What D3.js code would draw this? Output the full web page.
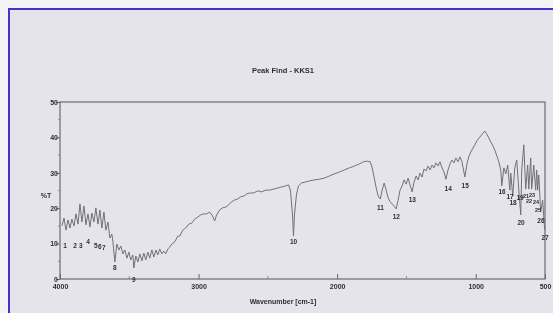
<!DOCTYPE html>
<html>
<head>
<meta charset="utf-8">
<script src="https://cdn.jsdelivr.net/npm/d3@7"></script>
<style>
  html, body { margin: 0; padding: 0; background: #f6f6f9; }
  svg { display: block; font-family: "Liberation Sans", Arial, sans-serif; }
</style>
</head>
<body>
<svg id="chart" width="553" height="313"></svg>
<script>
// spectrum (wavenumber cm-1, %T)
const wavenumbers = [
  3986, 3971, 3957, 3942, 3928, 3914, 3899, 3885, 3870, 3856, 3842, 3827, 3813, 3798, 3784, 3770,
  3755, 3741, 3726, 3712, 3698, 3683, 3669, 3654, 3640, 3626, 3618, 3604, 3590, 3575, 3561, 3546,
  3532, 3517, 3503, 3489, 3474, 3467, 3453, 3438, 3424, 3409, 3395, 3381, 3366, 3352, 3337, 3323,
  3308, 3294, 3280, 3265, 3251, 3237, 3222, 3208, 3193, 3179, 3165, 3150, 3136, 3114, 3093, 3071,
  3049, 3028, 3006, 2985, 2963, 2942, 2920, 2899, 2884, 2870, 2848, 2827, 2805, 2783, 2762, 2740,
  2718, 2697, 2675, 2654, 2632, 2603, 2574, 2545, 2517, 2488, 2459, 2430, 2401, 2372, 2351, 2337,
  2322, 2315, 2308, 2294, 2279, 2258, 2229, 2200, 2164, 2128, 2092, 2056, 2020, 1984, 1948, 1912,
  1876, 1840, 1811, 1783, 1761, 1747, 1732, 1718, 1704, 1689, 1675, 1661, 1646, 1632, 1617, 1603,
  1589, 1574, 1560, 1546, 1531, 1517, 1502, 1488, 1474, 1459, 1445, 1430, 1416, 1402, 1387, 1373,
  1359, 1344, 1330, 1315, 1301, 1287, 1272, 1258, 1243, 1229, 1215, 1200, 1186, 1171, 1157, 1143,
  1128, 1114, 1099, 1085, 1078, 1063, 1049, 1035, 1020, 1006, 992, 977, 963, 948, 934, 920,
  905, 891, 876, 862, 847, 833, 819, 812, 797, 783, 769, 754, 747, 733, 718, 704,
  689, 675, 668, 653, 639, 625, 617, 603, 596, 581, 567, 560, 553, 545, 531, 517, 502
];
const transmittance = [
  15.0, 17.2, 13.8, 16.7, 14.4, 16.9, 15.0, 18.4, 15.5, 21.2, 16.1, 20.6, 15.3, 18.4, 14.7, 18.6,
  16.1, 20.1, 15.5, 19.5, 14.4, 18.9, 13.8, 16.1, 11.6, 12.7, 10.5, 4.8, 9.9, 8.2, 9.3, 7.1,
  8.2, 5.9, 7.6, 5.4, 6.8, 3.1, 6.5, 4.8, 7.1, 5.1, 7.3, 5.4, 7.6, 5.9, 8.2, 6.2,
  8.2, 6.8, 8.5, 7.1, 7.9, 7.1, 8.5, 9.0, 9.9, 10.2, 11.0, 12.1, 12.1, 13.8, 14.4, 15.5,
  15.8, 16.9, 17.5, 18.1, 18.4, 18.4, 18.9, 17.8, 16.4, 18.1, 19.5, 20.1, 20.3, 20.9, 21.8, 22.3,
  22.6, 23.2, 23.4, 24.0, 24.3, 24.3, 24.9, 24.6, 25.1, 25.1, 25.4, 25.7, 26.0, 26.3, 26.6, 25.1,
  18.1, 12.1, 18.1, 23.7, 26.3, 27.1, 27.4, 27.7, 28.0, 28.2, 28.5, 29.1, 29.7, 30.2, 30.8, 31.4,
  31.9, 32.5, 33.1, 33.3, 33.1, 31.4, 28.5, 25.7, 23.4, 22.6, 25.1, 27.1, 25.1, 22.9, 21.8, 21.2,
  20.6, 19.8, 22.3, 25.1, 26.3, 28.0, 26.8, 28.5, 26.6, 24.6, 27.4, 29.1, 28.0, 29.9, 28.8, 31.1,
  30.5, 31.9, 30.8, 32.2, 31.4, 32.8, 31.9, 33.1, 31.4, 30.2, 28.2, 30.8, 32.5, 33.6, 32.8, 34.2,
  33.1, 34.5, 33.1, 30.2, 28.8, 32.5, 34.7, 35.9, 37.0, 37.9, 39.0, 39.8, 40.4, 41.2, 41.8, 40.9,
  39.8, 38.7, 37.6, 36.4, 34.7, 33.1, 30.8, 26.3, 31.4, 29.7, 32.2, 25.1, 29.9, 23.4, 31.4, 33.6,
  25.1, 18.1, 30.8, 37.9, 25.4, 32.2, 25.4, 34.2, 25.4, 32.2, 25.1, 30.8, 25.1, 29.4, 18.9, 22.3, 13.8
];

// peak-find markers
const peakLabels = d3.range(1, 28).map(String);
const peakWavenumbers = [3964, 3892, 3849, 3798, 3741, 3712, 3683, 3604, 3467, 2315, 1688, 1573, 1458, 1199,
  1076, 810, 752, 730, 680, 673, 637, 615, 594, 565, 550, 529, 500];
const peakValues = [11.3, 11.3, 11.3, 12.4, 11.3, 11.0, 10.7, 5.1, 1.7, 12.4, 22.0, 19.5, 24.3, 27.4,
  28.2, 26.6, 25.1, 23.4, 24.9, 17.8, 25.4, 25.7, 25.7, 25.4, 24.9, 18.4, 13.6];

const xTickLabels = [4000, 3000, 2000, 1000, 500];
const xMinorTicks = [3500, 2500, 1500];
const yTickLabels = [0, 10, 20, 30, 40, 50];

const svg = d3.select("#chart");
const W = 553, H = 313;

// soft focus like the photographed printout
svg.append("defs").append("filter").attr("id", "soft")
  .append("feGaussianBlur").attr("stdDeviation", 0.35);

// photographed page + blue frame
svg.append("rect").attr("x", 0).attr("y", 0).attr("width", W).attr("height", H).attr("fill", "#f4f4f8");
svg.append("rect").attr("x", 9).attr("y", 9).attr("width", W).attr("height", H)
  .attr("fill", "#e5e4eb").attr("stroke", "#4a30c4").attr("stroke-width", 2);

const x = d3.scaleLinear().domain([4000, 500]).range([60, 545]);
const y = d3.scaleLinear().domain([0, 50]).range([279, 102]);

const ink = "#2e2e33";
const g = svg.append("g").attr("filter", "url(#soft)");

// plot frame
g.append("rect")
  .attr("x", x(4000)).attr("y", y(50))
  .attr("width", x(500) - x(4000)).attr("height", y(0) - y(50))
  .attr("fill", "none").attr("stroke", "#6c6c72").attr("stroke-width", 1.2);

// x axis ticks (inside)
const xAxis = g.append("g").attr("transform", `translate(0,${y(0)})`)
  .call(d3.axisBottom(x).tickValues(xTickLabels).tickSize(-5).tickFormat(d3.format("d")));
xAxis.select(".domain").remove();
xAxis.selectAll("line").attr("stroke", "#66666c");
xAxis.selectAll("text").attr("y", 5).attr("fill", ink)
  .style("font-size", "7px").style("font-weight", "bold");

g.append("g").selectAll("line").data(xMinorTicks).join("line")
  .attr("x1", d => x(d)).attr("x2", d => x(d))
  .attr("y1", y(0)).attr("y2", y(0) - 3)
  .attr("stroke", "#8a8a90");

// y axis
const yAxis = g.append("g").attr("transform", `translate(${x(4000)},0)`)
  .call(d3.axisLeft(y).tickValues(yTickLabels).tickSize(4));
yAxis.select(".domain").remove();
yAxis.selectAll("line").attr("stroke", "#66666c");
yAxis.selectAll("text").attr("x", -2).attr("fill", ink)
  .style("font-size", "7px").style("font-weight", "bold");

g.append("g").selectAll("line").data(d3.range(5, 50, 10)).join("line")
  .attr("x1", x(4000) - 2).attr("x2", x(4000))
  .attr("y1", d => y(d)).attr("y2", d => y(d))
  .attr("stroke", "#8a8a90");

// spectrum
const points = wavenumbers.map((w, i) => [w, transmittance[i]]);
g.append("path")
  .datum(points)
  .attr("fill", "none")
  .attr("stroke", "#707078")
  .attr("stroke-width", 1)
  .attr("stroke-linejoin", "round")
  .attr("d", d3.line().x(d => x(d[0])).y(d => y(d[1])));

// peak numbers; the crowded 21-25 group is staggered over three rows
const labelDrop = i => (i < 20 || i > 24) ? 9 : [9, 15, 9, 15, 21][i - 20];
g.append("g").selectAll("text").data(peakLabels).join("text")
  .attr("x", (d, i) => x(peakWavenumbers[i]))
  .attr("y", (d, i) => y(peakValues[i]) + labelDrop(i))
  .attr("text-anchor", "middle")
  .attr("fill", ink)
  .style("font-size", (d, i) => i >= 20 && i <= 24 ? "5.5px" : "6.5px")
  .style("font-weight", "bold")
  .text(d => d);

// titles
g.append("text").attr("x", 283).attr("y", 73).attr("text-anchor", "middle")
  .attr("fill", ink).style("font-size", "7.5px").style("font-weight", "bold")
  .text("Peak Find - KKS1");
g.append("text").attr("x", 283).attr("y", 304).attr("text-anchor", "middle")
  .attr("fill", ink).style("font-size", "7px").style("font-weight", "bold")
  .text("Wavenumber [cm-1]");
g.append("text").attr("x", 46).attr("y", 198).attr("text-anchor", "middle")
  .attr("fill", ink).style("font-size", "7px").style("font-weight", "bold")
  .text("%T");
</script>
</body>
</html>
